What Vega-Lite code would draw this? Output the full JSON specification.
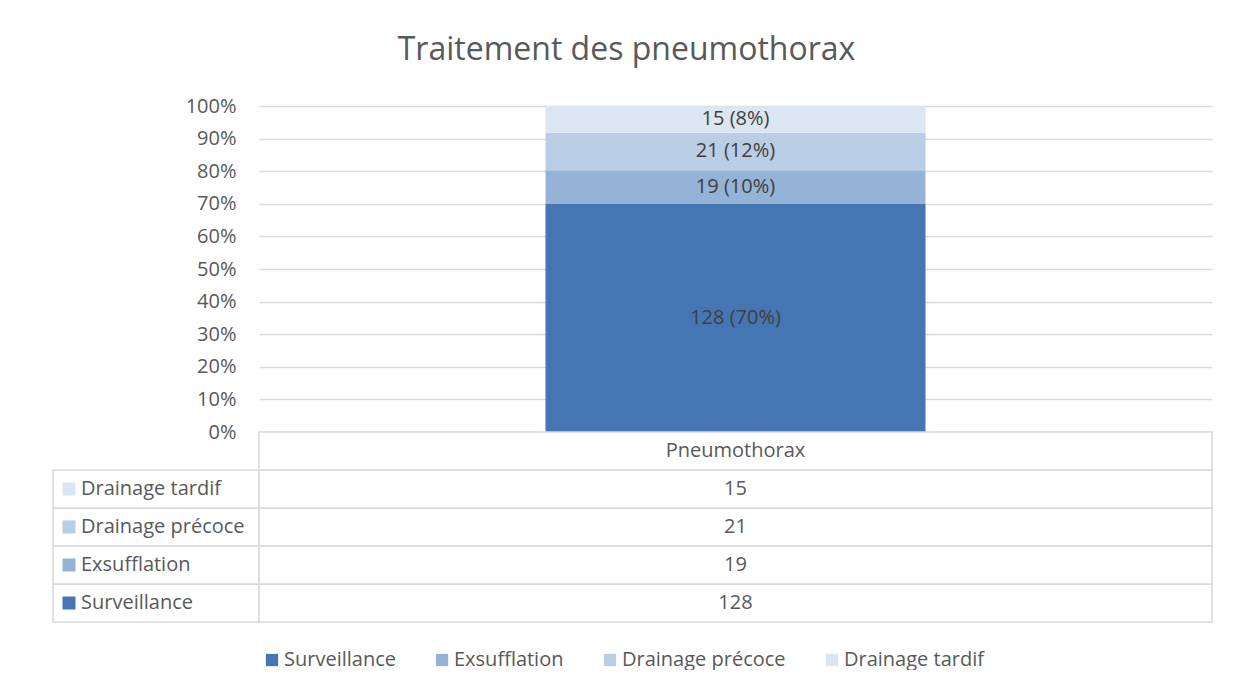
{
  "$schema": "https://vega.github.io/schema/vega-lite/v6.json",
  "background": "white",
  "padding": {"left": 52, "top": 34, "right": 0, "bottom": 0},
  "title": {"text": "Traitement des pneumothorax", "font": "Open Sans", "fontSize": 32, "fontWeight": "normal", "color": "#595959", "anchor": "middle", "offset": 29, "dx": -6},
  "datasets": {
    "d": [
      {"cat": "Pneumothorax", "serie": "Surveillance", "n": 128, "label": "128 (70%)", "ord": 1},
      {"cat": "Pneumothorax", "serie": "Exsufflation", "n": 19, "label": "19 (10%)", "ord": 2},
      {"cat": "Pneumothorax", "serie": "Drainage précoce", "n": 21, "label": "21 (12%)", "ord": 3},
      {"cat": "Pneumothorax", "serie": "Drainage tardif", "n": 15, "label": "15 (8%)", "ord": 4}
    ]
  },
  "columns": 2,
  "spacing": 0,
  "bounds": "flush",
  "resolve": {"scale": {"x": "independent", "y": "independent", "color": "shared"}},
  "concat": [
    {
      "width": 206,
      "height": 326,
      "data": {"values": []},
      "mark": "text",
      "encoding": {}
    },
    {
      "width": 953,
      "height": 326,
      "data": {"name": "d"},
      "encoding": {
        "x": {"field": "cat", "type": "nominal", "axis": null},
        "y": {"field": "n", "type": "quantitative", "stack": "normalize", "scale": {"domain": [0, 1]},
          "axis": {"format": ".0%", "tickCount": 10, "title": null, "domain": false, "ticks": false, "tickSize": 0, "labelPadding": 23, "grid": true, "gridColor": "#d9d9d9", "gridWidth": 1.5, "labelFontSize": 20, "labelColor": "#595959", "labelFont": "Open Sans"}},
        "order": {"field": "ord", "type": "quantitative"}
      },
      "layer": [
        {
          "mark": {"type": "bar", "width": 380},
          "encoding": {
            "color": {"field": "serie", "type": "nominal",
              "scale": {"domain": ["Surveillance", "Exsufflation", "Drainage précoce", "Drainage tardif"], "range": ["#4675B3", "#95B3D7", "#B9CDE5", "#DCE6F2"]},
              "legend": {"title": null, "orient": "none", "direction": "horizontal", "legendX": 209, "legendY": 544, "symbolType": "square", "symbolSize": 150, "symbolStrokeWidth": 0, "labelFontSize": 20, "labelColor": "#595959", "labelFont": "Open Sans", "labelLimit": 300, "columnPadding": 36, "labelOffset": 2}}
          }
        },
        {
          "mark": {"type": "text", "fontSize": 20, "color": "#404040", "font": "Open Sans", "baseline": "middle"},
          "encoding": {
            "y": {"field": "n", "type": "quantitative", "stack": "normalize", "bandPosition": 0.5},
            "text": {"field": "label"}
          }
        }
      ]
    },
    {
      "width": 206,
      "height": 190,
      "data": {"name": "d"},
      "encoding": {
        "y": {"field": "serie", "type": "nominal", "axis": null,
          "scale": {"domain": ["Pneumothorax", "Drainage tardif", "Drainage précoce", "Exsufflation", "Surveillance"], "paddingInner": 0, "paddingOuter": 0}}
      },
      "layer": [
        {
          "mark": {"type": "rect", "fill": "white", "stroke": "#d9d9d9", "strokeWidth": 1.5},
          "encoding": {"x": {"datum": "c", "type": "nominal", "axis": null, "scale": {"paddingInner": 0, "paddingOuter": 0}}}
        },
        {
          "mark": {"type": "point", "shape": "square", "filled": true, "size": 169, "opacity": 1, "xOffset": 16},
          "encoding": {
            "x": {"datum": "c", "type": "nominal", "bandPosition": 0},
            "color": {"field": "serie", "type": "nominal"}
          }
        },
        {
          "mark": {"type": "text", "align": "left", "baseline": "middle", "dx": 28, "fontSize": 20, "color": "#595959", "font": "Open Sans"},
          "encoding": {
            "x": {"datum": "c", "type": "nominal", "bandPosition": 0},
            "text": {"field": "serie"}
          }
        }
      ]
    },
    {
      "width": 953,
      "height": 190,
      "data": {"name": "d"},
      "encoding": {
        "x": {"datum": "c", "type": "nominal", "axis": null, "scale": {"paddingInner": 0, "paddingOuter": 0}}
      },
      "layer": [
        {
          "mark": {"type": "rect", "fill": "white", "stroke": "#d9d9d9", "strokeWidth": 1.5},
          "encoding": {
            "y": {"field": "serie", "type": "nominal", "axis": null,
              "scale": {"domain": ["Pneumothorax", "Drainage tardif", "Drainage précoce", "Exsufflation", "Surveillance"], "paddingInner": 0, "paddingOuter": 0}}
          }
        },
        {
          "transform": [{"aggregate": [{"op": "count", "as": "k"}], "groupby": ["cat"]}],
          "mark": {"type": "rect", "fill": "white", "stroke": "#d9d9d9", "strokeWidth": 1.5},
          "encoding": {"y": {"field": "cat", "type": "nominal"}}
        },
        {
          "mark": {"type": "text", "baseline": "middle", "fontSize": 20, "color": "#595959", "font": "Open Sans"},
          "encoding": {
            "y": {"field": "serie", "type": "nominal"},
            "text": {"field": "n"}
          }
        },
        {
          "transform": [{"aggregate": [{"op": "count", "as": "k"}], "groupby": ["cat"]}],
          "mark": {"type": "text", "baseline": "middle", "fontSize": 20, "color": "#595959", "font": "Open Sans"},
          "encoding": {
            "y": {"field": "cat", "type": "nominal"},
            "text": {"field": "cat"}
          }
        }
      ]
    }
  ],
  "config": {"view": {"stroke": null}, "font": "Open Sans"}
}
